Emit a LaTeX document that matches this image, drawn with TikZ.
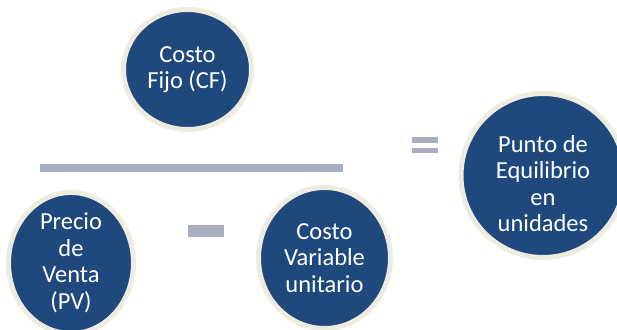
\documentclass[tikz,border=0pt]{standalone}
\usepackage{fontspec}
\setmainfont{Carlito}
\usetikzlibrary{shapes.geometric,positioning}

\definecolor{azul}{RGB}{31,73,125}
\definecolor{crema}{RGB}{238,236,225}
\definecolor{gris}{RGB}{167,174,189}

\begin{document}
\begin{tikzpicture}[x=1pt,y=-1pt,
	bola/.style={ellipse, fill=azul, draw=crema, line width=5pt, inner sep=0pt},
	rotulo/.style={text=white, align=center, font=\fontsize{24.5}{26.5}\selectfont}]
	% marco
	\useasboundingbox (0,0) rectangle (617,329);
	\clip (0,0) rectangle (617,329);

	% numerador
	\node[bola, rotulo, minimum width=128pt, minimum height=120pt] (cf) at (187.5,69.5) {Costo\\Fijo (CF)};

	% raya de fraccion
	\fill[gris] (40,164) rectangle (343,172);

	% denominador
	\node[bola, rotulo, minimum width=125pt, minimum height=135pt] (pv) at (71,263) {Precio\\de\\Venta\\(PV)};
	\fill[gris] (188,225) rectangle (224,237);
	\node[bola, rotulo, minimum width=132pt, minimum height=141pt] (cv) at (324.5,258) {Costo\\Variable\\unitario};

	% igual
	\fill[gris] (412,137) rectangle (438,143);
	\fill[gris] (412,148) rectangle (438,153);

	% resultado
	\node[bola, minimum width=164pt, minimum height=164pt] (pe) at (543,175.5) {};
	\node[rotulo] (pe-txt) at ([yshift=-8pt]pe.center) {Punto de\\Equilibrio\\en\\unidades};
\end{tikzpicture}
\end{document}
